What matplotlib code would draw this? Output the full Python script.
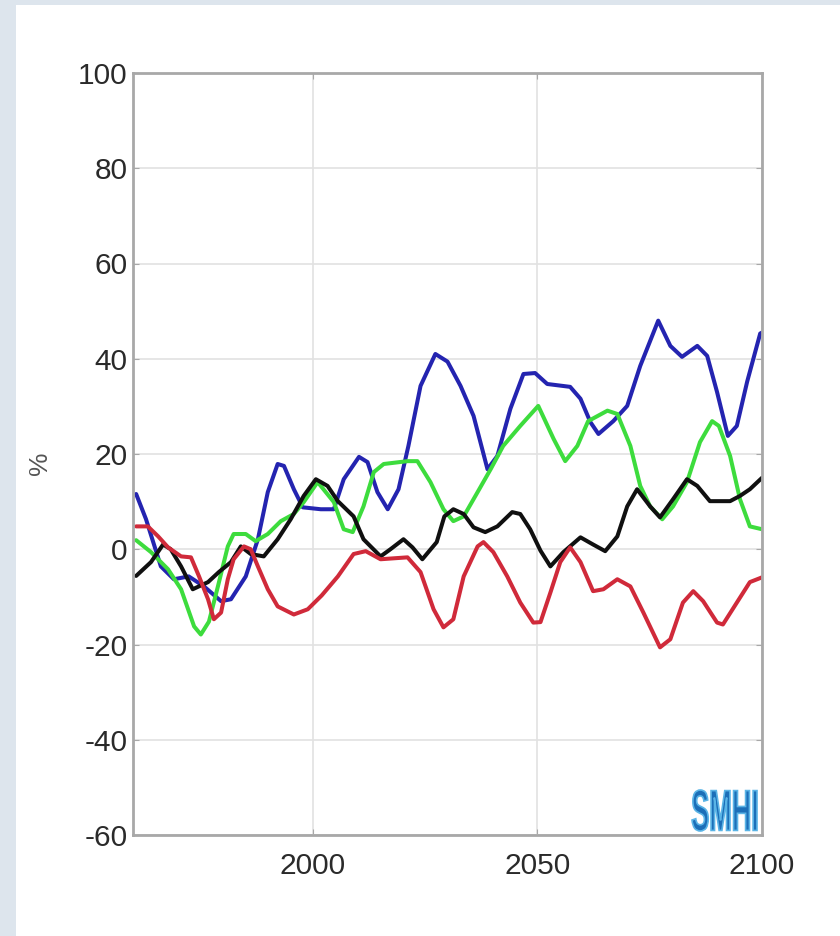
import matplotlib
matplotlib.use("Agg")
import matplotlib.pyplot as plt
from matplotlib.patches import Rectangle, PathPatch
from matplotlib.textpath import TextPath
from matplotlib.font_manager import FontProperties
from matplotlib.transforms import Affine2D

plt.rcParams["axes.unicode_minus"] = False

# 读取的曲线数据 (年份, 百分比)
blue_year = [1960.7, 1962.9, 1966.2, 1969.1, 1972.4, 1975.8, 1979.6, 1981.8, 1985.1, 1987.8,
             1990.0, 1992.2, 1993.6, 1995.8, 1997.8, 2001.8, 2004.7, 2006.9, 2010.3, 2012.2,
             2014.4, 2016.7, 2019.1, 2021.3, 2024.0, 2027.3, 2030.0, 2032.9, 2035.8, 2038.9,
             2041.1, 2044.0, 2046.9, 2049.5, 2052.2, 2057.3, 2059.6, 2061.8, 2063.6, 2066.9,
             2070.0, 2072.9, 2076.9, 2079.6, 2082.2, 2085.6, 2087.8, 2090.0, 2092.4, 2094.4,
             2096.7, 2099.6, 2100.0]
blue_val = [11.6, 6.3, -3.6, -6.3, -5.7, -7.8, -10.9, -10.5, -5.7, 2.1,
            12.0, 17.9, 17.5, 12.6, 8.8, 8.4, 8.4, 14.7, 19.4, 18.3,
            12.0, 8.4, 12.6, 21.7, 34.3, 41.0, 39.4, 34.3, 28.0, 16.8,
            19.6, 29.5, 36.8, 37.0, 34.7, 34.1, 31.6, 26.7, 24.2, 26.9,
            30.1, 38.5, 48.0, 42.7, 40.4, 42.7, 40.6, 33.0, 23.8, 25.9,
            35.2, 45.3, 45.5]

green_year = [1960.7, 1964.0, 1967.8, 1970.7, 1973.6, 1975.1, 1976.9, 1978.9, 1981.1, 1982.4,
              1985.1, 1987.3, 1990.0, 1992.9, 1995.8, 1998.0, 2001.1, 2004.7, 2006.9, 2008.9,
              2011.3, 2013.6, 2015.8, 2021.1, 2023.3, 2026.2, 2029.1, 2031.3, 2033.6, 2036.7,
              2039.6, 2042.4, 2046.2, 2050.2, 2053.6, 2056.2, 2058.9, 2061.3, 2065.6, 2067.8,
              2070.7, 2072.9, 2075.1, 2077.8, 2080.2, 2083.3, 2086.2, 2088.9, 2090.4, 2092.9,
              2095.1, 2097.3, 2100.0]
green_val = [1.9, -0.6, -4.2, -8.4, -16.2, -17.9, -15.2, -7.8, 0.6, 3.2,
             3.2, 1.7, 3.2, 5.9, 7.4, 9.9, 14.1, 9.9, 4.2, 3.6,
             9.0, 16.2, 17.9, 18.5, 18.5, 14.1, 8.4, 5.9, 6.9, 12.0,
             16.8, 21.7, 25.9, 30.1, 23.2, 18.5, 21.7, 26.9, 29.1, 28.4,
             21.7, 13.3, 9.0, 6.3, 9.0, 14.1, 22.5, 26.9, 25.9, 19.6,
             10.5, 4.8, 4.2]

black_year = [1960.7, 1964.0, 1966.7, 1968.4, 1970.7, 1973.3, 1976.7, 1979.1, 1981.8, 1984.0,
              1986.2, 1989.1, 1992.2, 1995.1, 1998.0, 2000.7, 2003.3, 2005.6, 2009.1, 2011.3,
              2015.1, 2017.3, 2020.2, 2022.2, 2024.4, 2027.6, 2029.3, 2031.3, 2033.6, 2035.8,
              2038.4, 2041.1, 2044.4, 2046.2, 2048.4, 2050.7, 2052.9, 2055.8, 2059.6, 2062.4,
              2065.1, 2067.8, 2070.0, 2072.2, 2075.1, 2077.3, 2080.2, 2083.3, 2085.6, 2088.4,
              2092.9, 2095.1, 2097.3, 2100.0]
black_val = [-5.6, -2.7, 1.0, 0.0, -3.6, -8.4, -6.9, -4.8, -2.7, 0.6,
             -1.0, -1.5, 2.1, 6.3, 11.2, 14.7, 13.3, 10.1, 6.9, 2.1,
             -1.5, 0.0, 2.1, 0.4, -2.1, 1.5, 6.9, 8.4, 7.4, 4.6,
             3.6, 4.8, 7.8, 7.4, 4.2, -0.3, -3.6, -0.6, 2.5, 1.0,
             -0.4, 2.7, 9.0, 12.6, 9.0, 6.7, 10.5, 14.7, 13.3, 10.1,
             10.1, 11.2, 12.6, 15.0]

red_year = [1960.7, 1963.3, 1965.6, 1967.8, 1970.7, 1972.9, 1974.7, 1976.7, 1978.0, 1979.6,
            1981.1, 1982.4, 1984.7, 1986.2, 1987.8, 1990.0, 1992.2, 1995.8, 1998.9, 2002.0,
            2005.6, 2009.1, 2011.8, 2015.1, 2021.1, 2024.0, 2026.9, 2029.1, 2031.3, 2033.6,
            2036.7, 2038.0, 2040.2, 2043.3, 2046.2, 2049.1, 2050.7, 2052.9, 2055.1, 2057.3,
            2059.6, 2062.4, 2064.7, 2067.8, 2070.7, 2073.6, 2077.3, 2079.6, 2082.4, 2084.7,
            2086.9, 2090.0, 2091.3, 2094.4, 2097.3, 2100.0]
red_val = [4.8, 4.8, 2.7, 0.4, -1.5, -1.7, -5.7, -10.5, -14.7, -13.3,
           -6.3, -2.1, 0.6, 0.0, -3.6, -8.4, -12.0, -13.7, -12.6, -9.7,
           -5.7, -1.0, -0.4, -2.1, -1.7, -4.8, -12.6, -16.4, -14.7, -5.7,
           0.6, 1.5, -0.6, -5.7, -11.2, -15.4, -15.3, -9.1, -2.7, 0.4,
           -2.7, -8.8, -8.4, -6.3, -7.8, -13.3, -20.6, -18.9, -11.2, -8.8,
           -10.9, -15.4, -15.8, -11.2, -6.9, -5.9]

y_ticks = [-60, -40, -20, 0, 20, 40, 60, 80, 100]
x_ticks = [2000, 2050, 2100]

W, H = 840, 936
fig = plt.figure(figsize=(W / 100, H / 100), dpi=100)
# 浅灰蓝边框
fig.patches.append(Rectangle((0, 0), 16 / W, 1, transform=fig.transFigure,
                             facecolor="#dde5ed", edgecolor="none", zorder=0))
fig.patches.append(Rectangle((0, 1 - 5 / H), 1, 5 / H, transform=fig.transFigure,
                             facecolor="#dde5ed", edgecolor="none", zorder=0))

ax = fig.add_axes([133 / W, 1 - 835 / H, 629 / W, 762 / H])

lw = 2.9
for xs, ys, c in [(blue_year, blue_val, "#2424b0"),
                  (green_year, green_val, "#3ddc3d"),
                  (black_year, black_val, "#101010"),
                  (red_year, red_val, "#d02a3a")]:
    ax.plot(xs, ys, color=c, lw=lw, solid_capstyle="round", solid_joinstyle="round")

ax.set_xlim(1960, 2100)
ax.set_ylim(-60, 100)
ax.set_xticks(x_ticks)
ax.set_yticks(y_ticks)
ax.grid(True, color="#e2e2e2", lw=1.2)
ax.set_axisbelow(True)
for s in ax.spines.values():
    s.set_color("#a8a8a8")
    s.set_linewidth(2)
ax.tick_params(direction="in", length=4, color="#a8a8a8", labelsize=21.5,
               labelcolor="#2a2a2a", top=True, right=True)
ax.tick_params(axis="x", pad=12)
ax.tick_params(axis="y", pad=4)
for lab in ax.get_xticklabels() + ax.get_yticklabels():
    lab.set_family(["Liberation Sans", "DejaVu Sans"])

ax.set_ylabel("%", fontsize=19, color="#555555",
              family=["Liberation Sans", "DejaVu Sans"])
ax.yaxis.set_label_coords(-0.128, 0.488)

# SMHI 标志: 压窄的粗体文字
tp = TextPath((0, 0), "SMHI", size=1,
              prop=FontProperties(family="Liberation Sans", weight="bold"))
ext = tp.get_extents()
x0, x1, y0, y1 = 692, 757, 790, 831
tr = (Affine2D().translate(-ext.x0, -ext.y0)
      .scale((x1 - x0) / W / ext.width, (y1 - y0) / H / ext.height)
      .translate(x0 / W, 1 - y1 / H) + fig.transFigure)
fig.add_artist(PathPatch(tp, transform=tr, facecolor="#1c6fb8",
                         edgecolor="#5ab4e6", lw=1.2))

fig.savefig("out.png", dpi=100, facecolor="white")
